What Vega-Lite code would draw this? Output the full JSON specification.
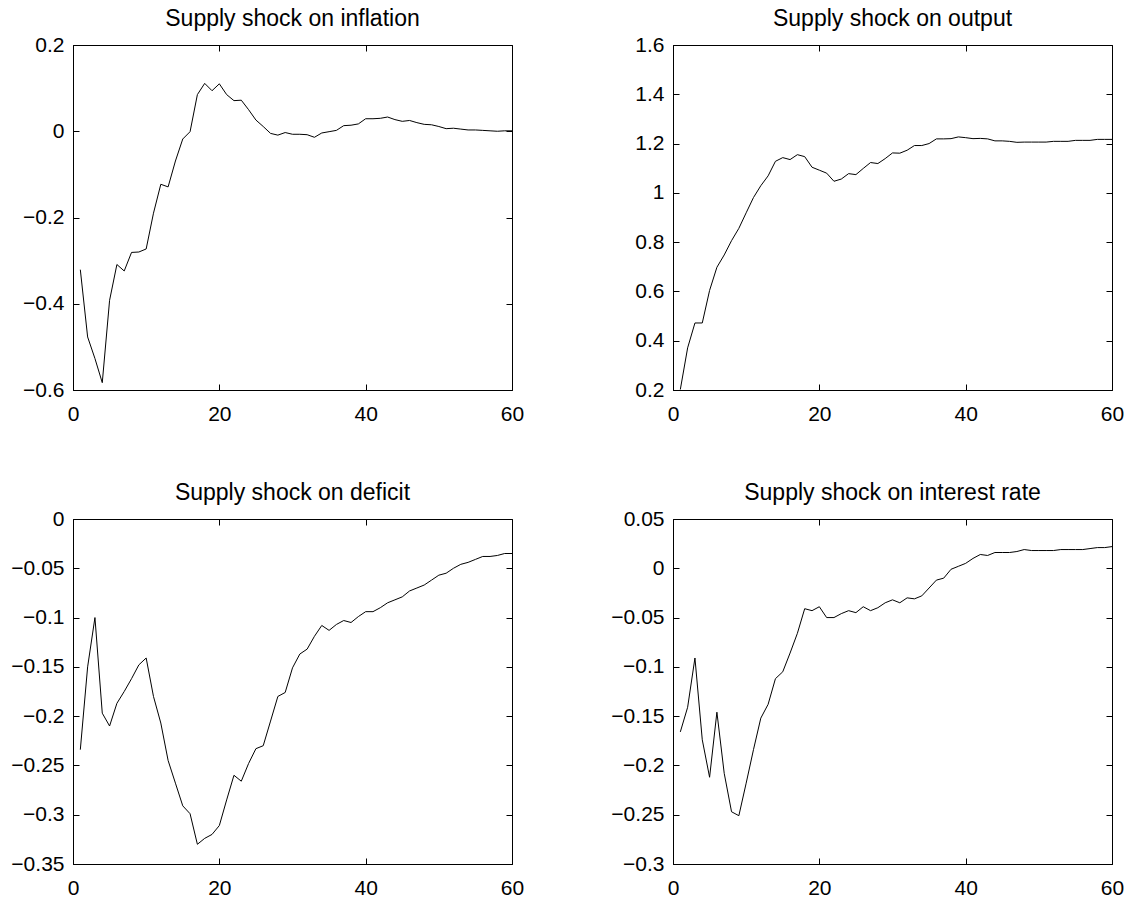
{
  "$schema": "https://vega.github.io/schema/vega-lite/v6.json",
  "padding": {"left": 10, "top": 7, "right": 5, "bottom": 2},
  "background": "white",
  "datasets": {
    "inflation": [
      {"t":1,"v":-0.321},{"t":2,"v":-0.477},{"t":3,"v":-0.527},{"t":4,"v":-0.583},{"t":5,"v":-0.392},
      {"t":6,"v":-0.309},{"t":7,"v":-0.324},{"t":8,"v":-0.281},{"t":9,"v":-0.280},{"t":10,"v":-0.273},
      {"t":11,"v":-0.190},{"t":12,"v":-0.123},{"t":13,"v":-0.129},{"t":14,"v":-0.069},{"t":15,"v":-0.018},
      {"t":16,"v":-0.001},{"t":17,"v":0.085},{"t":18,"v":0.111},{"t":19,"v":0.094},{"t":20,"v":0.110},
      {"t":21,"v":0.085},{"t":22,"v":0.071},{"t":23,"v":0.072},{"t":24,"v":0.050},{"t":25,"v":0.026},
      {"t":26,"v":0.011},{"t":27,"v":-0.005},{"t":28,"v":-0.009},{"t":29,"v":-0.003},{"t":30,"v":-0.007},
      {"t":31,"v":-0.007},{"t":32,"v":-0.008},{"t":33,"v":-0.014},{"t":34,"v":-0.004},{"t":35,"v":-0.001},
      {"t":36,"v":0.002},{"t":37,"v":0.013},{"t":38,"v":0.014},{"t":39,"v":0.017},{"t":40,"v":0.029},
      {"t":41,"v":0.029},{"t":42,"v":0.030},{"t":43,"v":0.033},{"t":44,"v":0.027},{"t":45,"v":0.023},
      {"t":46,"v":0.025},{"t":47,"v":0.020},{"t":48,"v":0.016},{"t":49,"v":0.015},{"t":50,"v":0.011},
      {"t":51,"v":0.006},{"t":52,"v":0.007},{"t":53,"v":0.005},{"t":54,"v":0.003},{"t":55,"v":0.003},
      {"t":56,"v":0.002},{"t":57,"v":0.001},{"t":58,"v":0.000},{"t":59,"v":0.001},{"t":60,"v":0.001}
    ],
    "output": [
      {"t":1,"v":0.202},{"t":2,"v":0.371},{"t":3,"v":0.472},{"t":4,"v":0.472},{"t":5,"v":0.604},
      {"t":6,"v":0.698},{"t":7,"v":0.748},{"t":8,"v":0.806},{"t":9,"v":0.856},{"t":10,"v":0.919},
      {"t":11,"v":0.981},{"t":12,"v":1.029},{"t":13,"v":1.069},{"t":14,"v":1.128},{"t":15,"v":1.143},
      {"t":16,"v":1.135},{"t":17,"v":1.155},{"t":18,"v":1.147},{"t":19,"v":1.104},{"t":20,"v":1.092},
      {"t":21,"v":1.080},{"t":22,"v":1.047},{"t":23,"v":1.056},{"t":24,"v":1.078},{"t":25,"v":1.074},
      {"t":26,"v":1.099},{"t":27,"v":1.123},{"t":28,"v":1.119},{"t":29,"v":1.139},{"t":30,"v":1.162},
      {"t":31,"v":1.161},{"t":32,"v":1.173},{"t":33,"v":1.192},{"t":34,"v":1.192},{"t":35,"v":1.200},
      {"t":36,"v":1.219},{"t":37,"v":1.219},{"t":38,"v":1.220},{"t":39,"v":1.227},{"t":40,"v":1.224},
      {"t":41,"v":1.220},{"t":42,"v":1.221},{"t":43,"v":1.219},{"t":44,"v":1.211},{"t":45,"v":1.211},
      {"t":46,"v":1.209},{"t":47,"v":1.205},{"t":48,"v":1.206},{"t":49,"v":1.206},{"t":50,"v":1.206},
      {"t":51,"v":1.206},{"t":52,"v":1.209},{"t":53,"v":1.209},{"t":54,"v":1.209},{"t":55,"v":1.213},
      {"t":56,"v":1.213},{"t":57,"v":1.213},{"t":58,"v":1.217},{"t":59,"v":1.217},{"t":60,"v":1.217}
    ],
    "deficit": [
      {"t":1,"v":-0.234},{"t":2,"v":-0.150},{"t":3,"v":-0.100},{"t":4,"v":-0.197},{"t":5,"v":-0.210},
      {"t":6,"v":-0.187},{"t":7,"v":-0.175},{"t":8,"v":-0.162},{"t":9,"v":-0.148},{"t":10,"v":-0.141},
      {"t":11,"v":-0.180},{"t":12,"v":-0.207},{"t":13,"v":-0.245},{"t":14,"v":-0.268},{"t":15,"v":-0.291},
      {"t":16,"v":-0.299},{"t":17,"v":-0.330},{"t":18,"v":-0.324},{"t":19,"v":-0.320},{"t":20,"v":-0.311},
      {"t":21,"v":-0.285},{"t":22,"v":-0.260},{"t":23,"v":-0.266},{"t":24,"v":-0.248},{"t":25,"v":-0.233},
      {"t":26,"v":-0.230},{"t":27,"v":-0.205},{"t":28,"v":-0.180},{"t":29,"v":-0.176},{"t":30,"v":-0.151},
      {"t":31,"v":-0.137},{"t":32,"v":-0.132},{"t":33,"v":-0.119},{"t":34,"v":-0.108},{"t":35,"v":-0.113},
      {"t":36,"v":-0.107},{"t":37,"v":-0.103},{"t":38,"v":-0.105},{"t":39,"v":-0.099},{"t":40,"v":-0.094},
      {"t":41,"v":-0.094},{"t":42,"v":-0.090},{"t":43,"v":-0.085},{"t":44,"v":-0.082},{"t":45,"v":-0.079},
      {"t":46,"v":-0.073},{"t":47,"v":-0.070},{"t":48,"v":-0.067},{"t":49,"v":-0.062},{"t":50,"v":-0.057},
      {"t":51,"v":-0.055},{"t":52,"v":-0.050},{"t":53,"v":-0.046},{"t":54,"v":-0.044},{"t":55,"v":-0.041},
      {"t":56,"v":-0.038},{"t":57,"v":-0.038},{"t":58,"v":-0.037},{"t":59,"v":-0.035},{"t":60,"v":-0.035}
    ],
    "interest": [
      {"t":1,"v":-0.166},{"t":2,"v":-0.141},{"t":3,"v":-0.091},{"t":4,"v":-0.174},{"t":5,"v":-0.212},
      {"t":6,"v":-0.146},{"t":7,"v":-0.208},{"t":8,"v":-0.247},{"t":9,"v":-0.251},{"t":10,"v":-0.218},
      {"t":11,"v":-0.184},{"t":12,"v":-0.152},{"t":13,"v":-0.138},{"t":14,"v":-0.112},{"t":15,"v":-0.105},
      {"t":16,"v":-0.086},{"t":17,"v":-0.066},{"t":18,"v":-0.041},{"t":19,"v":-0.043},{"t":20,"v":-0.039},
      {"t":21,"v":-0.050},{"t":22,"v":-0.050},{"t":23,"v":-0.046},{"t":24,"v":-0.043},{"t":25,"v":-0.045},
      {"t":26,"v":-0.039},{"t":27,"v":-0.043},{"t":28,"v":-0.040},{"t":29,"v":-0.035},{"t":30,"v":-0.032},
      {"t":31,"v":-0.035},{"t":32,"v":-0.030},{"t":33,"v":-0.031},{"t":34,"v":-0.028},{"t":35,"v":-0.020},
      {"t":36,"v":-0.012},{"t":37,"v":-0.010},{"t":38,"v":-0.001},{"t":39,"v":0.002},{"t":40,"v":0.005},
      {"t":41,"v":0.010},{"t":42,"v":0.014},{"t":43,"v":0.013},{"t":44,"v":0.016},{"t":45,"v":0.016},
      {"t":46,"v":0.016},{"t":47,"v":0.017},{"t":48,"v":0.019},{"t":49,"v":0.018},{"t":50,"v":0.018},
      {"t":51,"v":0.018},{"t":52,"v":0.018},{"t":53,"v":0.019},{"t":54,"v":0.019},{"t":55,"v":0.019},
      {"t":56,"v":0.019},{"t":57,"v":0.020},{"t":58,"v":0.021},{"t":59,"v":0.021},{"t":60,"v":0.022}
    ]
  },
  "columns": 2,
  "spacing": {"column": 85, "row": 56},
  "concat": [
    {
      "title": "Supply shock on inflation",
      "width": 439, "height": 345,
      "data": {"name": "inflation"},
      "resolve": {"axis": {"x": "independent", "y": "independent"}},
      "layer": [
        {"mark": {"type": "line", "clip": true},
         "encoding": {
           "x": {"field": "t", "type": "quantitative", "scale": {"domain": [0, 60], "nice": false}, "axis": {"values": [0, 20, 40, 60], "title": null, "labelPadding": 19.5}},
           "y": {"field": "v", "type": "quantitative", "scale": {"domain": [-0.6, 0.2], "nice": false, "zero": false}, "axis": {"values": [-0.6, -0.4, -0.2, 0, 0.2], "format": "~g", "title": null}}
         }},
        {"mark": {"type": "line", "opacity": 0},
         "encoding": {
           "x": {"field": "t", "type": "quantitative", "axis": {"orient": "top", "labels": false, "domain": false, "labelPadding": 0, "minExtent": 0, "maxExtent": 0, "values": [0, 20, 40, 60], "title": null}},
           "y": {"field": "v", "type": "quantitative", "axis": {"orient": "right", "labels": false, "domain": false, "labelPadding": 0, "minExtent": 0, "maxExtent": 0, "values": [-0.6, -0.4, -0.2, 0, 0.2], "title": null}}
         }}
      ]
    },
    {
      "title": "Supply shock on output",
      "width": 439, "height": 345,
      "data": {"name": "output"},
      "resolve": {"axis": {"x": "independent", "y": "independent"}},
      "layer": [
        {"mark": {"type": "line", "clip": true},
         "encoding": {
           "x": {"field": "t", "type": "quantitative", "scale": {"domain": [0, 60], "nice": false}, "axis": {"values": [0, 20, 40, 60], "title": null, "labelPadding": 19.5}},
           "y": {"field": "v", "type": "quantitative", "scale": {"domain": [0.2, 1.6], "nice": false, "zero": false}, "axis": {"values": [0.2, 0.4, 0.6, 0.8, 1, 1.2, 1.4, 1.6], "format": "~g", "title": null}}
         }},
        {"mark": {"type": "line", "opacity": 0},
         "encoding": {
           "x": {"field": "t", "type": "quantitative", "axis": {"orient": "top", "labels": false, "domain": false, "labelPadding": 0, "minExtent": 0, "maxExtent": 0, "values": [0, 20, 40, 60], "title": null}},
           "y": {"field": "v", "type": "quantitative", "axis": {"orient": "right", "labels": false, "domain": false, "labelPadding": 0, "minExtent": 0, "maxExtent": 0, "values": [0.2, 0.4, 0.6, 0.8, 1, 1.2, 1.4, 1.6], "title": null}}
         }}
      ]
    },
    {
      "title": "Supply shock on deficit",
      "width": 439, "height": 345,
      "data": {"name": "deficit"},
      "resolve": {"axis": {"x": "independent", "y": "independent"}},
      "layer": [
        {"mark": {"type": "line", "clip": true},
         "encoding": {
           "x": {"field": "t", "type": "quantitative", "scale": {"domain": [0, 60], "nice": false}, "axis": {"values": [0, 20, 40, 60], "title": null, "labelPadding": 19.5}},
           "y": {"field": "v", "type": "quantitative", "scale": {"domain": [-0.35, 0], "nice": false, "zero": false}, "axis": {"values": [-0.35, -0.3, -0.25, -0.2, -0.15, -0.1, -0.05, 0], "format": "~g", "title": null}}
         }},
        {"mark": {"type": "line", "opacity": 0},
         "encoding": {
           "x": {"field": "t", "type": "quantitative", "axis": {"orient": "top", "labels": false, "domain": false, "labelPadding": 0, "minExtent": 0, "maxExtent": 0, "values": [0, 20, 40, 60], "title": null}},
           "y": {"field": "v", "type": "quantitative", "axis": {"orient": "right", "labels": false, "domain": false, "labelPadding": 0, "minExtent": 0, "maxExtent": 0, "values": [-0.35, -0.3, -0.25, -0.2, -0.15, -0.1, -0.05, 0], "title": null}}
         }}
      ]
    },
    {
      "title": "Supply shock on interest rate",
      "width": 439, "height": 345,
      "data": {"name": "interest"},
      "resolve": {"axis": {"x": "independent", "y": "independent"}},
      "layer": [
        {"mark": {"type": "line", "clip": true},
         "encoding": {
           "x": {"field": "t", "type": "quantitative", "scale": {"domain": [0, 60], "nice": false}, "axis": {"values": [0, 20, 40, 60], "title": null, "labelPadding": 19.5}},
           "y": {"field": "v", "type": "quantitative", "scale": {"domain": [-0.3, 0.05], "nice": false, "zero": false}, "axis": {"values": [-0.3, -0.25, -0.2, -0.15, -0.1, -0.05, 0, 0.05], "format": "~g", "title": null}}
         }},
        {"mark": {"type": "line", "opacity": 0},
         "encoding": {
           "x": {"field": "t", "type": "quantitative", "axis": {"orient": "top", "labels": false, "domain": false, "labelPadding": 0, "minExtent": 0, "maxExtent": 0, "values": [0, 20, 40, 60], "title": null}},
           "y": {"field": "v", "type": "quantitative", "axis": {"orient": "right", "labels": false, "domain": false, "labelPadding": 0, "minExtent": 0, "maxExtent": 0, "values": [-0.3, -0.25, -0.2, -0.15, -0.1, -0.05, 0, 0.05], "title": null}}
         }}
      ]
    }
  ],
  "config": {
    "font": "Liberation Sans",
    "view": {"stroke": "black", "strokeWidth": 1},
    "line": {"color": "black", "strokeWidth": 1},
    "axis": {
      "grid": false,
      "domainColor": "black",
      "domainWidth": 1,
      "tickColor": "black",
      "tickSize": -6,
      "tickWidth": 1,
      "labelColor": "black",
      "labelFont": "Liberation Sans",
      "labelFontSize": 21,
      "labelPadding": 15,
      "labelFlush": false,
      "labelOverlap": false
    },
    "title": {"font": "Liberation Sans", "fontSize": 23, "fontWeight": "normal", "color": "black", "offset": 3, "baseline": "alphabetic", "anchor": "middle"}
  }
}
